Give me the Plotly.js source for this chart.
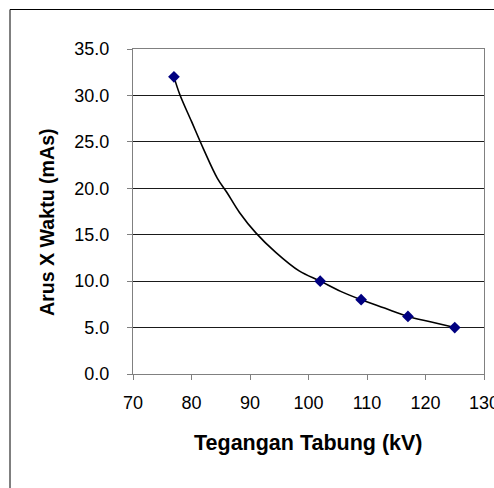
<!DOCTYPE html>
<html>
<head>
<meta charset="utf-8">
<script src="https://cdn.plot.ly/plotly-3.0.1.min.js"></script>
<style>
  html, body { margin: 0; padding: 0; background: #fff; }
  #chart { width: 494px; height: 488px; }
</style>
</head>
<body>
<div id="chart"></div>
<script>
// Measured points: tube voltage (kV) vs current x time (mAs)
var tegangan = [77, 102, 109, 117, 125];
var arusWaktu = [32.0, 10.0, 8.0, 6.2, 5.0];

// Smoothed trend curve through the measurements
var kurvaX = [77, 78, 80, 82, 84.4, 86, 88.2, 91, 94.4, 98.4, 102, 105.5, 109, 113, 117, 121, 125];
var kurvaY = [32.0, 30.1, 27.2, 24.3, 21.1, 19.6, 17.4, 15.2, 13.1, 11.1, 10.0, 8.9, 8.0, 7.1, 6.2, 5.6, 5.0];

var xTicks = [70, 80, 90, 100, 110, 120, 130];
var yTicks = [0, 5, 10, 15, 20, 25, 30, 35];
var yTickText = yTicks.map(function (v) { return v.toFixed(1); });

var fontFamily = '"Liberation Sans", Arial, sans-serif';

var traces = [
  {
    x: kurvaX, y: kurvaY,
    type: 'scatter', mode: 'lines',
    line: { color: '#000000', width: 1.6, shape: 'spline', smoothing: 1 },
    hoverinfo: 'skip', showlegend: false
  },
  {
    x: tegangan, y: arusWaktu,
    type: 'scatter', mode: 'markers',
    marker: { symbol: 'diamond', size: 9, color: '#000080', line: { width: 0 } },
    showlegend: false
  }
];

var layout = {
  width: 494, height: 488,
  margin: { l: 133, r: 10, t: 49, b: 114 },
  paper_bgcolor: '#ffffff', plot_bgcolor: '#ffffff',
  font: { family: fontFamily, size: 18, color: '#000000' },
  showlegend: false,
  xaxis: {
    range: [70, 130], tickvals: xTicks, ticktext: xTicks.map(String),
    showgrid: false, zeroline: false,
    showline: true, linecolor: '#808080', linewidth: 1, mirror: true,
    ticks: 'outside', ticklen: 5, tickcolor: '#808080', tickwidth: 1,
    ticklabelstandoff: 7, ticklabeloverflow: 'allow',
    tickfont: { family: fontFamily, size: 18, color: '#000' },
    automargin: false
  },
  yaxis: {
    range: [0, 35], tickvals: yTicks, ticktext: yTickText,
    showgrid: true, gridcolor: '#1a1a1a', gridwidth: 1, zeroline: false,
    showline: true, linecolor: '#808080', linewidth: 1, mirror: true,
    ticks: 'outside', ticklen: 5, tickcolor: '#808080', tickwidth: 1,
    ticklabelstandoff: 14,
    tickfont: { family: fontFamily, size: 18, color: '#000' },
    automargin: false
  },
  annotations: [
    {
      text: '<b>Tegangan Tabung (kV)</b>',
      xref: 'paper', yref: 'paper', x: 0.4986, y: -0.2123,
      xanchor: 'center', yanchor: 'middle', showarrow: false,
      font: { family: fontFamily, size: 21.5, color: '#000' }
    },
    {
      text: '<b>Arus X Waktu (mAs)</b>',
      xref: 'paper', yref: 'paper', x: -0.245, y: 0.4677,
      xanchor: 'center', yanchor: 'middle', textangle: -90, showarrow: false,
      font: { family: fontFamily, size: 19.6, color: '#000' }
    }
  ],
  shapes: [
    {
      type: 'rect', xref: 'paper', yref: 'paper',
      x0: -0.3504, x1: 1.3, y0: -0.45, y1: 1.1215,
      line: { color: '#000000', width: 1 }, fillcolor: 'rgba(0,0,0,0)',
      layer: 'below'
    }
  ]
};

Plotly.newPlot('chart', traces, layout, { staticPlot: true, displayModeBar: false });
</script>
</body>
</html>
